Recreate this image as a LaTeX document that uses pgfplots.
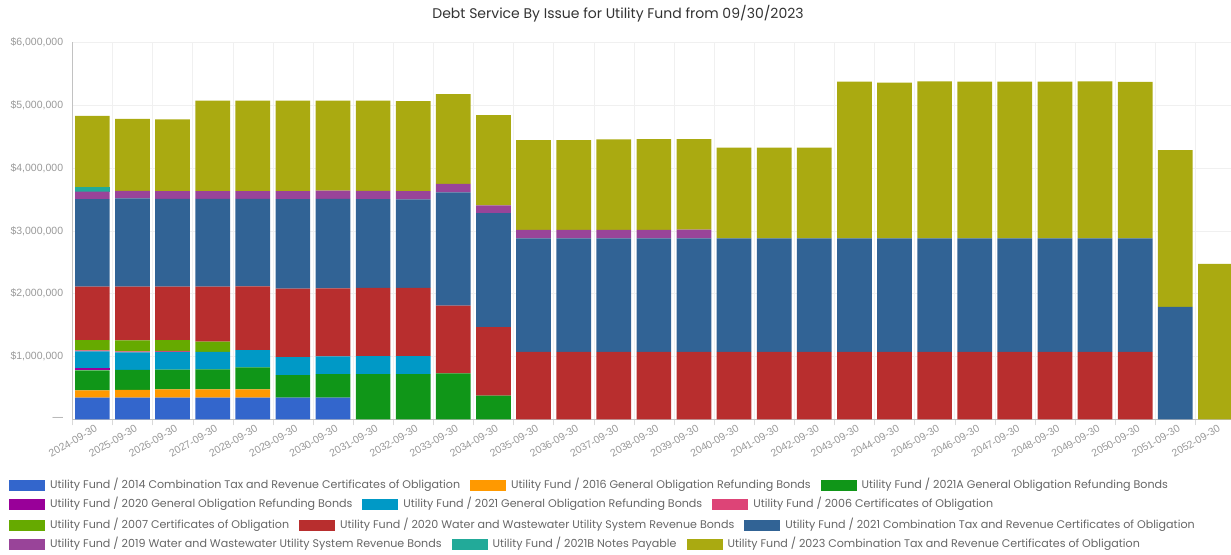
\documentclass[border=0pt]{standalone}
\usepackage{fontspec}
\setmainfont{Liberation Sans}
\newfontfamily\pop{Poppins}
\usepackage{pgfplots}
\pgfplotsset{compat=1.18}
\usepackage{pgfplotstable}
\definecolor{cA}{HTML}{3366CC}
\definecolor{cB}{HTML}{FF9900}
\definecolor{cC}{HTML}{109618}
\definecolor{cD}{HTML}{990099}
\definecolor{cE}{HTML}{0099C6}
\definecolor{cF}{HTML}{DD4477}
\definecolor{cG}{HTML}{66AA00}
\definecolor{cH}{HTML}{B82E2E}
\definecolor{cI}{HTML}{316395}
\definecolor{cJ}{HTML}{994499}
\definecolor{cK}{HTML}{22AA99}
\definecolor{cL}{HTML}{AAAA11}
\definecolor{ttl}{HTML}{333333}
\definecolor{lgd}{HTML}{666666}
\definecolor{tck}{HTML}{999999}

% debt service per fiscal year, one column per issue
\pgfplotstableread{
x  b14    o16    g21a   p20   c21    k06   l07    r20     d21     p19    t21b  o23
0  345000 115000 320000 35000 265000 15000 165000 850000  1395000 117000 74000 1135000
1  345000 125000 315000 0     280000 15000 175000 855000  1405000 120000 0     1145000
2  345000 130000 315000 0     285000 15000 170000 850000  1400000 120000 0     1145000
3  345000 130000 320000 0     280000 0     160000 875000  1400000 120000 0     1440000
4  345000 130000 350000 0     275000 0     0      1015000 1395000 120000 0     1440000
5  345000 0      360000 0     285000 0     0      1090000 1425000 125000 0     1440000
6  345000 0      375000 0     280000 0     0      1085000 1425000 130000 0     1430000
7  0      0      720000 0     285000 0     0      1085000 1415000 130000 0     1435000
8  0      0      720000 0     285000 0     0      1085000 1410000 130000 0     1435000
9  0      0      730000 0     0      0     0      1080000 1800000 135000 0     1430000
10 0      0      375000 0     0      0     0      1090000 1815000 125000 0     1435000
11 0      0      0      0     0      0     0      1075000 1805000 135000 0     1430000
12 0      0      0      0     0      0     0      1075000 1805000 135000 0     1430000
13 0      0      0      0     0      0     0      1075000 1805000 135000 0     1440000
14 0      0      0      0     0      0     0      1075000 1805000 135000 0     1445000
15 0      0      0      0     0      0     0      1075000 1805000 140000 0     1440000
16 0      0      0      0     0      0     0      1075000 1805000 0      0     1445000
17 0      0      0      0     0      0     0      1075000 1805000 0      0     1445000
18 0      0      0      0     0      0     0      1075000 1805000 0      0     1445000
19 0      0      0      0     0      0     0      1075000 1805000 0      0     2493000
20 0      0      0      0     0      0     0      1075000 1805000 0      0     2480000
21 0      0      0      0     0      0     0      1075000 1805000 0      0     2500000
22 0      0      0      0     0      0     0      1075000 1805000 0      0     2495000
23 0      0      0      0     0      0     0      1075000 1805000 0      0     2495000
24 0      0      0      0     0      0     0      1075000 1805000 0      0     2495000
25 0      0      0      0     0      0     0      1075000 1805000 0      0     2500000
26 0      0      0      0     0      0     0      1075000 1805000 0      0     2490000
27 0      0      0      0     0      0     0      0       1790000 0      0     2495000
28 0      0      0      0     0      0     0      0       0       0      0     2475000
}\debt

\newcommand{\sw}[1]{\textcolor{#1}{\rule[-2.3pt]{36pt}{11pt}}}
\newcommand{\lt}[1]{\hspace{5pt}#1\hspace{10pt}}

\begin{document}
\begin{tikzpicture}
\useasboundingbox (0,0) rectangle (1231pt,554pt);
\begin{axis}[
  at={(72.3pt,134.7pt)}, anchor=south west,
  width=1158.7pt, height=377pt, scale only axis,
  ybar stacked, bar width=0.865,
  xmin=-0.5, xmax=28.39, ymin=0, ymax=6000000,
  scaled y ticks=false,
  axis lines*=left,
  axis line style={tck!60},
  xtick={0,...,28},
  xticklabels={2024-09-30,2025-09-30,2026-09-30,2027-09-30,2028-09-30,2029-09-30,2030-09-30,2031-09-30,2032-09-30,2033-09-30,2034-09-30,2035-09-30,2036-09-30,2037-09-30,2038-09-30,2039-09-30,2040-09-30,2041-09-30,2042-09-30,2043-09-30,2044-09-30,2045-09-30,2046-09-30,2047-09-30,2048-09-30,2049-09-30,2050-09-30,2051-09-30,2052-09-30},
  minor xtick={-0.5,0.5,...,28.5},
  xminorgrids, ymajorgrids,
  major grid style={gray!12}, minor grid style={gray!12},
  major tick length=0pt, minor tick length=6pt, tick align=outside,
  minor tick style={gray!30},
  ytick={0,1000000,...,6000000},
  yticklabels={{---},{\$1,000,000},{\$2,000,000},{\$3,000,000},{\$4,000,000},{\$5,000,000},{\$6,000,000}},
  yticklabel style={anchor=east, inner sep=0pt, xshift=-9pt, font=\fontsize{10.5}{12}\selectfont, text=tck},
  xticklabel style={xshift=2pt, yshift=-5pt, rotate=30, anchor=north east, inner sep=0pt, font=\fontsize{10.5}{12}\selectfont, text=tck},
]
\addplot[fill=cA, draw=none] table[x=x,y=b14]{\debt};
\addplot[fill=cB, draw=none] table[x=x,y=o16]{\debt};
\addplot[fill=cC, draw=none] table[x=x,y=g21a]{\debt};
\addplot[fill=cD, draw=none] table[x=x,y=p20]{\debt};
\addplot[fill=cE, draw=none] table[x=x,y=c21]{\debt};
\addplot[fill=cF, draw=none] table[x=x,y=k06]{\debt};
\addplot[fill=cG, draw=none] table[x=x,y=l07]{\debt};
\addplot[fill=cH, draw=none] table[x=x,y=r20]{\debt};
\addplot[fill=cI, draw=none] table[x=x,y=d21]{\debt};
\addplot[fill=cJ, draw=none] table[x=x,y=p19]{\debt};
\addplot[fill=cK, draw=none] table[x=x,y=t21b]{\debt};
\addplot[fill=cL, draw=none] table[x=x,y=o23]{\debt};
\end{axis}
\node[text=ttl, font=\pop\fontsize{14}{16}\selectfont] at (618pt,540pt) {Debt Service By Issue for Utility Fund from 09/30/2023};
\begin{scope}[every node/.style={anchor=west, inner sep=0pt, text=lgd, font=\pop\fontsize{11.1}{13}\selectfont}]
\node at (9pt,69pt) {\sw{cA}\lt{Utility Fund / 2014 Combination Tax and Revenue Certificates of Obligation}\sw{cB}\lt{Utility Fund / 2016 General Obligation Refunding Bonds}\sw{cC}\lt{Utility Fund / 2021A General Obligation Refunding Bonds}};
\node at (9pt,50pt) {\sw{cD}\lt{Utility Fund / 2020 General Obligation Refunding Bonds}\sw{cE}\lt{Utility Fund / 2021 General Obligation Refunding Bonds}\sw{cF}\lt{Utility Fund / 2006 Certificates of Obligation}};
\node at (9pt,29pt) {\sw{cG}\lt{Utility Fund / 2007 Certificates of Obligation}\sw{cH}\lt{Utility Fund / 2020 Water and Wastewater Utility System Revenue Bonds}\sw{cI}\lt{Utility Fund / 2021 Combination Tax and Revenue Certificates of Obligation}};
\node at (9pt,10pt) {\sw{cJ}\lt{Utility Fund / 2019 Water and Wastewater Utility System Revenue Bonds}\sw{cK}\lt{Utility Fund / 2021B Notes Payable}\sw{cL}\lt{Utility Fund / 2023 Combination Tax and Revenue Certificates of Obligation}};
\end{scope}
\end{tikzpicture}
\end{document}
